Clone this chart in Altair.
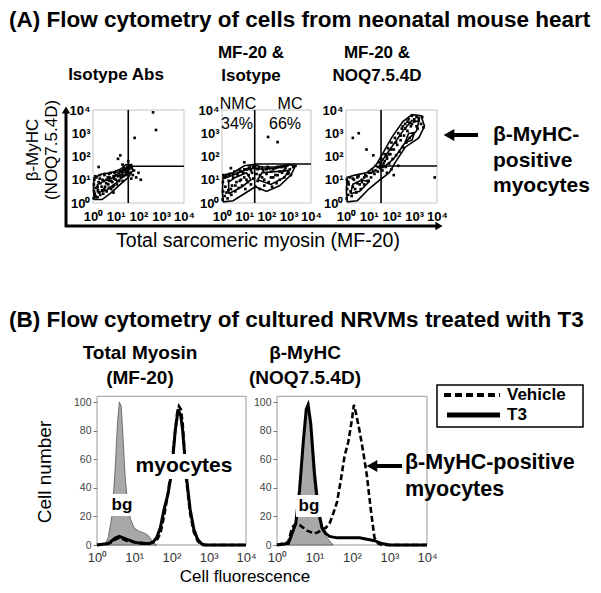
import altair as alt
import pandas as pd

W, H = 585, 577
OFF = 8
FONT = "Liberation Sans"


def P(v):
    return v - OFF


# ---------------- texts ----------------
title_a = "(A) Flow cytometry of cells from neonatal mouse heart"
title_b = "(B) Flow cytometry of cultured NRVMs treated with T3"
heads_a = [["Isotype Abs"], ["MF-20 &", "Isotype"], ["MF-20 &", "NOQ7.5.4D"]]
heads_b = [["Total Myosin", "(MF-20)"], ["β-MyHC", "(NOQ7.5.4D)"]]
ytitle_a = ["β-MyHC", "(NOQ7.5.4D)"]
xtitle_a = "Total sarcomeric myosin (MF-20)"
note_a = ["β-MyHC-", "positive", "myocytes"]
gate_text = ["NMC", "MC", "34%", "66%"]
series_names = ["Vehicle", "T3"]
ytitle_b = "Cell number"
xtitle_b = "Cell fluorescence"
note_b = ["β-MyHC-positive", "myocytes"]
peak_text = "myocytes"
bg_text = "bg"
decade_ticks = [0, 1, 2, 3, 4]
count_ticks = [0, 20, 40, 60, 80, 100]

# ---------------- panel A data (log10 decades) ----------------
gate_x = [1.55, 1.47, 1.54]
gate_y = [1.58, 1.68, 1.59]

a1_x = [0.03, 0.05, 0.04, 0.06, 0.1, 0.12, 0.15, 0.2, 0.22, 0.25, 0.3, 0.32, 0.38, 0.42, 0.45, 0.5, 0.52, 0.58,
        0.6, 0.65, 0.7, 0.72, 0.78, 0.8, 0.85, 0.9, 0.92, 1.0, 1.02, 1.05, 1.1, 1.15, 1.2, 1.22, 1.28, 1.3, 1.35,
        1.4, 1.45, 1.5, 1.52, 1.58, 1.62, 1.65, 1.7, 1.75, 1.8, 1.9, 2.0, 1.68, 1.1, 1.2, 1.3, 1.83, 2.64, 2.77,
        1.55, 0.25, 0.9, 2.1,
        0.08, 0.14, 0.2, 0.27, 0.33, 0.4, 0.47, 0.53, 0.6, 0.67, 0.73, 0.8, 0.87, 0.93, 1.0, 1.07, 1.13, 1.2,
        1.27, 1.33, 1.4, 1.47, 1.5, 1.56, 1.6, 0.1, 0.3, 0.5, 0.7, 0.95]
a1_y = [0.2, 0.5, 0.8, 1.0, 0.3, 0.65, 1.1, 0.25, 0.55, 0.9, 1.2, 0.35, 0.7, 1.0, 0.4, 0.6, 1.25, 0.85,
        0.5, 1.1, 0.65, 0.95, 1.3, 0.6, 0.9, 1.15, 0.75, 1.0, 1.35, 0.8, 1.15, 0.95, 1.4, 1.1, 1.25, 0.95, 1.5,
        1.2, 1.35, 1.55, 1.2, 1.45, 1.6, 1.3, 1.5, 1.2, 1.4, 1.1, 1.3, 1.05, 1.9, 2.05, 1.65, 2.8, 3.9, 3.14,
        1.8, 1.55, 0.45, 1.0,
        0.4, 0.25, 0.7, 0.45, 0.85, 0.55, 0.95, 0.7, 1.0, 0.8, 1.1, 0.95, 0.7, 1.05, 1.2, 0.95, 1.3, 1.2,
        1.35, 1.15, 1.45, 1.25, 1.4, 1.3, 1.5, 1.15, 1.05, 1.2, 1.25, 1.3]
a1_cont = [
    ([0.05, 0.4, 0.8, 1.2, 1.55, 1.75, 1.7, 1.45, 1.2, 0.8, 0.4, 0.05, 0.02, 0.05],
     [0.15, 0.15, 0.45, 0.8, 1.1, 1.4, 1.65, 1.65, 1.45, 1.3, 1.25, 1.1, 0.6, 0.15]),
    ([0.2, 0.6, 1.0, 1.4, 1.5, 1.3, 0.9, 0.5, 0.2, 0.2],
     [0.45, 0.55, 0.85, 1.2, 1.4, 1.4, 1.1, 0.95, 0.8, 0.45]),
    ([1.25, 1.5, 1.55, 1.35, 1.25], [1.3, 1.35, 1.5, 1.5, 1.3]),
]

a2_x = [0.03, 0.05, 0.04, 0.06, 0.12, 0.15, 0.18, 0.25, 0.28, 0.3, 0.35, 0.42, 0.45, 0.5, 0.55, 0.6, 0.65, 0.7,
        0.75, 0.8, 0.85, 0.9, 0.95, 1.0, 1.05, 1.1, 1.15, 1.2, 1.25, 1.3, 1.35, 1.4, 1.45, 1.5, 1.55, 1.6, 1.65,
        1.7, 1.8, 1.85, 1.9, 2.0, 2.05, 2.1, 2.2, 2.25, 2.3, 2.4, 2.45, 2.5, 2.6, 2.65, 2.7, 2.8, 2.85, 2.95,
        3.05, 3.1, 3.2, 3.3, 2.07, 2.5, 1.0, 0.4,
        0.1, 0.2, 0.3, 0.4, 0.5, 0.6, 0.7, 0.8, 0.9, 1.0, 1.1, 1.2, 1.3, 1.4, 1.5, 1.6, 1.7, 1.8, 1.9, 2.0,
        2.1, 2.2, 2.3, 2.4, 2.5, 2.6, 2.7, 2.8, 2.9, 3.0]
a2_y = [0.15, 0.5, 0.9, 1.2, 0.3, 0.7, 1.15, 0.2, 0.55, 0.95, 1.25, 0.35, 0.75, 1.1, 1.35, 0.5, 0.9, 1.2,
        0.65, 1.4, 1.0, 0.75, 1.3, 1.1, 0.6, 1.45, 0.9, 1.2, 1.55, 0.8, 1.3, 1.05, 1.6, 0.7, 1.25, 0.95, 1.5,
        0.6, 1.1, 1.4, 0.75, 1.25, 1.55, 0.9, 1.35, 0.7, 1.1, 1.5, 0.85, 1.2, 1.0, 1.55, 1.3, 1.1, 1.5, 1.25,
        1.45, 1.2, 1.55, 1.6, 2.84, 2.62, 1.75, 1.5,
        1.1, 0.45, 1.2, 0.6, 1.25, 0.75, 1.3, 0.95, 1.35, 1.45, 1.0, 1.5, 1.4, 1.55, 1.5, 1.45, 1.2, 1.5, 1.0,
        1.45, 1.5, 1.1, 1.45, 1.2, 1.55, 1.35, 1.55, 1.4, 1.6, 1.3]
a2_cont = [
    ([0.05, 0.5, 1.0, 1.5, 2.0, 2.6, 3.1, 3.3, 3.0, 2.4, 1.8, 1.4, 1.0, 0.5, 0.05, 0.02, 0.05],
     [0.05, 0.1, 0.4, 0.7, 0.5, 0.75, 1.2, 1.6, 1.65, 1.55, 1.55, 1.65, 1.6, 1.3, 1.2, 0.5, 0.05]),
    ([0.3, 0.9, 1.3, 1.1, 0.6, 0.3, 0.3], [0.4, 0.7, 1.0, 1.3, 1.1, 0.9, 0.4]),
    ([1.6, 2.2, 2.8, 3.0, 2.4, 1.8, 1.6], [1.0, 0.8, 1.1, 1.4, 1.35, 1.3, 1.0]),
    ([0.1, 0.5, 1.0, 1.4, 1.8, 2.4, 3.0], [1.05, 1.2, 1.4, 1.5, 1.45, 1.5, 1.6]),
]

a3_x = [0.03, 0.05, 0.04, 0.1, 0.12, 0.18, 0.25, 0.3, 0.35, 0.45, 0.5, 0.55, 0.65, 0.7, 0.8, 0.85, 0.95, 1.0,
        1.1, 1.15, 1.25, 1.3, 1.4, 1.45, 1.5, 1.55, 1.6, 1.65, 1.7, 1.75, 1.8, 1.85, 1.9, 1.95, 2.0, 2.05, 2.1,
        2.15, 2.2, 2.25, 2.3, 2.35, 2.4, 2.45, 2.5, 2.55, 2.6, 2.65, 2.7, 2.75, 2.8, 2.85, 2.9, 2.95, 3.0, 3.1,
        3.15, 3.2, 3.3, 3.35, 3.4, 1.8, 2.0, 2.1, 2.3, 0.3, 0.9, 1.2, 3.9, 0.56,
        0.1, 0.2, 0.3, 0.4, 0.5, 0.6, 0.7, 0.8, 0.9, 1.0, 1.1, 1.2, 1.3, 1.4, 1.5, 1.6, 1.7, 1.8, 1.9, 2.0,
        2.2, 2.4, 2.6, 2.8, 3.0, 3.2, 2.5, 2.7, 2.9, 3.1]
a3_y = [0.2, 0.6, 1.0, 0.35, 0.8, 1.1, 0.3, 0.7, 1.0, 0.45, 0.85, 1.15, 0.6, 1.0, 0.8, 1.2, 0.95, 1.3,
        1.1, 1.45, 1.25, 1.6, 1.35, 1.75, 1.5, 1.9, 1.4, 1.7, 2.1, 1.55, 1.9, 2.35, 1.7, 2.1, 2.6, 1.9, 2.3,
        2.8, 2.05, 2.5, 3.0, 2.2, 2.7, 3.2, 2.4, 2.9, 3.4, 2.6, 3.1, 3.6, 2.8, 3.3, 3.75, 3.0, 3.5, 3.7,
        3.2, 3.55, 3.4, 3.7, 3.25, 1.3, 1.45, 1.2, 1.6, 2.8, 2.3, 2.05, 1.1, 3.0,
        0.9, 0.5, 1.05, 0.6, 1.1, 0.8, 0.9, 1.1, 1.15, 0.95, 1.3, 1.35, 1.4, 1.55, 1.6, 1.6, 1.8, 2.0, 2.1,
        2.3, 2.6, 2.9, 3.2, 3.45, 3.6, 3.65, 3.3, 3.5, 3.4, 3.3]
a3_cont = [
    ([0.05, 0.5, 1.0, 1.5, 1.9, 2.2, 2.6, 3.2, 3.45, 3.3, 2.9, 2.5, 2.0, 1.6, 1.3, 0.9, 0.4, 0.05, 0.02, 0.05],
     [0.05, 0.1, 0.6, 1.0, 1.3, 1.8, 2.4, 2.8, 3.3, 3.75, 3.8, 3.5, 2.8, 2.1, 1.6, 1.3, 1.2, 1.1, 0.5, 0.05]),
    ([1.6, 2.1, 2.6, 3.1, 3.2, 2.9, 2.5, 2.0, 1.5, 1.6], [1.5, 1.9, 2.6, 3.1, 3.5, 3.55, 3.1, 2.4, 1.7, 1.5]),
    ([2.6, 2.9, 3.0, 2.75, 2.6], [2.6, 2.7, 3.0, 3.0, 2.6]),
    ([0.2, 0.6, 1.0, 0.7, 0.3, 0.2], [0.4, 0.5, 0.9, 1.0, 0.8, 0.4]),
]

# ---------------- panel B data (x in log10 decades, y = cell number) ----------------
b1_bg_x = [0.2, 0.3, 0.4, 0.48, 0.55, 0.6, 0.65, 0.7, 0.75, 0.8, 0.85, 0.9, 0.95, 1.0, 1.1, 1.2, 1.3, 1.4, 1.5, 1.6]
b1_bg_y = [0, 5, 20, 50, 85, 100, 97, 75, 50, 35, 25, 18, 15, 12, 10, 9, 8, 6, 2, 0]
b1_t3_x = [0, 0.3, 0.4, 0.5, 0.6, 0.7, 0.8, 0.9, 1.0, 1.2, 1.4, 1.5, 1.6, 1.7, 1.8, 1.9, 2.0, 2.1, 2.18, 2.25,
           2.3, 2.4, 2.5, 2.6, 2.7, 2.8, 2.9, 4.0]
b1_t3_y = [0, 1, 3, 5, 6, 5, 4, 3, 2, 1, 1, 2, 5, 12, 25, 35, 50, 80, 95, 90, 80, 48, 25, 11, 4, 1, 0, 0]
b1_veh_x = [0, 0.3, 0.4, 0.5, 0.6, 0.7, 0.8, 1.0, 1.4, 1.6, 1.7, 1.8, 1.9, 2.0, 2.1, 2.15, 2.2, 2.25, 2.3,
            2.35, 2.4, 2.5, 2.6, 2.7, 2.8, 4.0]
b1_veh_y = [0, 1, 2, 4, 5, 4, 3, 2, 1, 3, 8, 20, 35, 55, 80, 92, 97, 95, 85, 65, 45, 22, 9, 3, 0, 0]

b2_bg_x = [0.3, 0.4, 0.5, 0.6, 0.7, 0.78, 0.83, 0.88, 0.95, 1.0, 1.1, 1.2, 1.3, 1.4, 1.5]
b2_bg_y = [0, 5, 15, 35, 70, 95, 100, 85, 55, 40, 20, 10, 6, 3, 0]
b2_t3_x = [0, 0.3, 0.4, 0.5, 0.6, 0.7, 0.78, 0.83, 0.9, 1.0, 1.1, 1.2, 1.3, 1.4, 1.6, 1.8, 2.0, 2.2, 2.4, 2.6,
           2.7, 2.8, 3.0, 4.0]
b2_t3_y = [0, 1, 8, 15, 38, 72, 95, 98, 85, 50, 25, 12, 8, 6, 5, 5, 5, 5, 4, 3, 2, 1, 0, 0]
b2_veh_x = [0, 0.3, 0.4, 0.5, 0.6, 0.7, 0.8, 0.9, 1.0, 1.1, 1.2, 1.3, 1.4, 1.5, 1.6, 1.7, 1.8, 1.9, 2.0, 2.05,
            2.1, 2.2, 2.3, 2.4, 2.5, 2.6, 2.7, 2.8, 4.0]
b2_veh_y = [0, 2, 12, 15, 14, 12, 10, 9, 8, 9, 11, 12, 15, 22, 30, 45, 62, 72, 88, 98, 93, 80, 65, 48, 25, 5,
            1, 0, 0]

# ---------------- layout (page pixels) ----------------
AY0, AY1 = 203, 110
A_X = [(93, 184), (222, 311), (346, 437)]
BY0, BY1 = 545, 402
B_X = [(97, 246), (277, 427)]

DECADE_LBL = "'10' + ['⁰','¹','²','³','⁴'][datum.value]"
ONE = pd.DataFrame({"k": [0]})


def text(t, x, y, size=16, weight="normal", align="center", angle=0, color="black"):
    return alt.Chart(ONE).mark_text(
        text=t, font=FONT, fontSize=size, fontWeight=weight, align=align,
        baseline="middle", angle=angle, color=color
    ).encode(x=alt.value(P(x)), y=alt.value(P(y)))


def white_box(x1, x2, y1, y2):
    return alt.Chart(ONE).mark_rect(color="white").encode(
        x=alt.value(P(x1)), x2=alt.value(P(x2)), y=alt.value(P(y1)), y2=alt.value(P(y2)))


def hline(x1, x2, y, width=3, dash=None):
    kw = dict(color="black", strokeWidth=width)
    if dash:
        kw["strokeDash"] = dash
    return alt.Chart(ONE).mark_rule(**kw).encode(
        x=alt.value(P(x1)), x2=alt.value(P(x2)), y=alt.value(P(y)))


def vline(x, y1, y2, width=3):
    return alt.Chart(ONE).mark_rule(color="black", strokeWidth=width).encode(
        x=alt.value(P(x)), y=alt.value(P(y1)), y2=alt.value(P(y2)))


def tri(shape, x, y, size):
    return alt.Chart(ONE).mark_point(shape=shape, filled=True, color="black", opacity=1, size=size).encode(
        x=alt.value(P(x)), y=alt.value(P(y)))


def scatter_panel(i, xs, ys, conts):
    x0, x1 = A_X[i]
    xsc = alt.Scale(domain=[0, 4], range=[P(x0), P(x1)], nice=False, zero=False)
    ysc = alt.Scale(domain=[0, 4], range=[P(AY0), P(AY1)], nice=False, zero=False)
    frame_df = pd.DataFrame({"x": [0], "x2": [4], "y": [0], "y2": [4]})
    frame = alt.Chart(frame_df).mark_rect(fill="white", fillOpacity=0, stroke="#c4c4c4", strokeWidth=1).encode(
        x=alt.X("x:Q", scale=xsc, axis=alt.Axis(
            orient="bottom", offset=P(AY0) - H, values=decade_ticks, labelExpr=DECADE_LBL,
            labelFont=FONT, labelFontSize=13, labelFontWeight="bold", labelColor="black",
            labelPadding=7, ticks=False, domain=False, grid=False, title=None,
            labelFlush=False, labelOverlap=False)),
        x2="x2:Q",
        y=alt.Y("y:Q", scale=ysc, axis=alt.Axis(
            orient="left", offset=-P(x0), values=decade_ticks, labelExpr=DECADE_LBL,
            labelFont=FONT, labelFontSize=13, labelFontWeight="bold", labelColor="black",
            labelPadding=3, ticks=False, domain=False, grid=False, title=None,
            labelFlush=False, labelOverlap=False)),
        y2="y2:Q")
    rows = []
    for c, (cx, cy) in enumerate(conts):
        for k, (a, b) in enumerate(zip(cx, cy)):
            rows.append({"c": c, "i": k, "x": a, "y": b})
    cont = alt.Chart(pd.DataFrame(rows)).mark_line(color="black", strokeWidth=1.6).encode(
        x=alt.X("x:Q", scale=xsc, axis=None), y=alt.Y("y:Q", scale=ysc, axis=None),
        detail="c:N", order="i:Q")
    dots = alt.Chart(pd.DataFrame({"x": xs, "y": ys})).mark_square(color="black", size=7, opacity=1).encode(
        x=alt.X("x:Q", scale=xsc, axis=None), y=alt.Y("y:Q", scale=ysc, axis=None))
    gdf = pd.DataFrame({"x": [gate_x[i], gate_x[i]], "x2": [gate_x[i], 4],
                        "y": [0, gate_y[i]], "y2": [4, gate_y[i]]})
    gates = alt.Chart(gdf).mark_rule(color="black", strokeWidth=1.6).encode(
        x=alt.X("x:Q", scale=xsc, axis=None), x2="x2:Q",
        y=alt.Y("y:Q", scale=ysc, axis=None), y2="y2:Q")
    return [frame, dots, cont, gates]


def hist_panel(i, bgx, bgy, t3x, t3y, vx, vy):
    x0, x1 = B_X[i]
    xsc = alt.Scale(domain=[0, 4], range=[P(x0), P(x1)], nice=False, zero=False)
    ysc = alt.Scale(domain=[0, 100], range=[P(BY0), P(BY1)], nice=False, zero=False)
    frame_df = pd.DataFrame({"x": [0], "x2": [4], "y": [0], "y2": [104]})
    frame = alt.Chart(frame_df).mark_rect(fill="white", fillOpacity=0, stroke="#999999", strokeWidth=1).encode(
        x=alt.X("x:Q", scale=xsc, axis=alt.Axis(
            orient="bottom", offset=P(BY0) - H, values=decade_ticks, labelExpr=DECADE_LBL,
            labelFont=FONT, labelFontSize=13, labelColor="#333333",
            labelPadding=6, ticks=False, domain=False, grid=False, title=None,
            labelFlush=False, labelOverlap=False)),
        x2="x2:Q",
        y=alt.Y("y:Q", scale=ysc, axis=alt.Axis(
            orient="left", offset=-P(x0), values=count_ticks,
            labelFont=FONT, labelFontSize=10.5, labelColor="#444444",
            labelPadding=2, ticks=True, tickSize=4, tickColor="#777777", domain=False, grid=False,
            title=None, labelFlush=False, labelOverlap=False)),
        y2="y2:Q")
    bg = alt.Chart(pd.DataFrame({"x": bgx, "y": bgy})).mark_area(
        color="#a8a8a8", stroke="#555555", strokeWidth=0.8, opacity=1).encode(
        x=alt.X("x:Q", scale=xsc, axis=None), y=alt.Y("y:Q", scale=ysc, axis=None))
    veh = alt.Chart(pd.DataFrame({"x": vx, "y": vy})).mark_line(
        color="black", strokeWidth=2.6, strokeDash=[6, 3]).encode(
        x=alt.X("x:Q", scale=xsc, axis=None), y=alt.Y("y:Q", scale=ysc, axis=None))
    t3 = alt.Chart(pd.DataFrame({"x": t3x, "y": t3y})).mark_line(
        color="black", strokeWidth=3).encode(
        x=alt.X("x:Q", scale=xsc, axis=None), y=alt.Y("y:Q", scale=ysc, axis=None))
    return [frame, bg, t3, veh]


layers = []

# ----- section A -----
layers.append(text(title_a, 9, 20, size=22.5, weight="bold", align="left"))
head_cx = [116, 251, 377]
for cx, lines in zip(head_cx, heads_a):
    ys = [75] if len(lines) == 1 else [53, 76]
    for ln, yy in zip(lines, ys):
        layers.append(text(ln, cx, yy, size=17, weight="bold"))

layers += scatter_panel(0, a1_x, a1_y, a1_cont)
layers += scatter_panel(1, a2_x, a2_y, a2_cont)
layers += scatter_panel(2, a3_x, a3_y, a3_cont)

layers.append(text(gate_text[0], 238, 104, size=16))
layers.append(text(gate_text[1], 290, 104, size=16))
layers.append(text(gate_text[2], 237, 124, size=16))
layers.append(text(gate_text[3], 285, 124, size=16))

# big axes with arrows
layers.append(vline(66, 227, 112, width=3))
layers.append(tri("triangle-up", 66, 110, 70))
layers.append(hline(65, 436, 226, width=3))
layers.append(tri("triangle-right", 439, 226, 70))
layers.append(text(ytitle_a[0], 33, 150, size=17, angle=270))
layers.append(text(ytitle_a[1], 52, 150, size=17, angle=270))
layers.append(text(xtitle_a, 258, 241, size=19.5))

# side annotation
layers.append(hline(452, 478, 135, width=4))
layers.append(tri("triangle-left", 449, 135, 150))
for ln, yy in zip(note_a, [135, 161, 186]):
    layers.append(text(ln, 493, yy, size=21, weight="bold", align="left"))

# ----- section B -----
layers.append(text(title_b, 9, 320, size=22.5, weight="bold", align="left"))
for cx, lines in zip([140, 305], heads_b):
    for ln, yy in zip(lines, [353, 378]):
        layers.append(text(ln, cx, yy, size=19, weight="bold"))

layers += hist_panel(0, b1_bg_x, b1_bg_y, b1_t3_x, b1_t3_y, b1_veh_x, b1_veh_y)
layers += hist_panel(1, b2_bg_x, b2_bg_y, b2_t3_x, b2_t3_y, b2_veh_x, b2_veh_y)

layers.append(white_box(132, 237, 454, 479))
layers.append(text(peak_text, 184, 466, size=21, weight="bold"))
layers.append(white_box(109, 136, 494, 516))
layers.append(text(bg_text, 122, 505, size=17, weight="bold"))
layers.append(white_box(296, 323, 495, 517))
layers.append(text(bg_text, 309, 506, size=17, weight="bold"))

layers.append(hline(377, 402, 466, width=4))
layers.append(tri("triangle-left", 372, 466, 150))
layers.append(text(note_b[0], 405, 463, size=21.5, weight="bold", align="left"))
layers.append(text(note_b[1], 405, 490, size=21.5, weight="bold", align="left"))

layers.append(text(ytitle_b, 45, 472, size=19, angle=270))
layers.append(text(xtitle_b, 245, 577, size=17))

# legend box
layers.append(alt.Chart(ONE).mark_rect(fill="white", stroke="black", strokeWidth=1.5).encode(
    x=alt.value(P(437)), x2=alt.value(P(583)), y=alt.value(P(385)), y2=alt.value(P(427))))
layers.append(hline(444, 500, 395, width=4, dash=[7, 4]))
layers.append(hline(447, 500, 415, width=5))
layers.append(text(series_names[0], 507, 395, size=17, weight="bold", align="left"))
layers.append(text(series_names[1], 507, 415, size=17, weight="bold", align="left"))

chart = alt.layer(*layers).resolve_scale(x="independent", y="independent").properties(
    width=W, height=H, padding=0, autosize=alt.AutoSizeParams(type="none")
).configure_view(stroke=None)

chart.save("out.html", embed_options={"renderer": "svg", "actions": False})
